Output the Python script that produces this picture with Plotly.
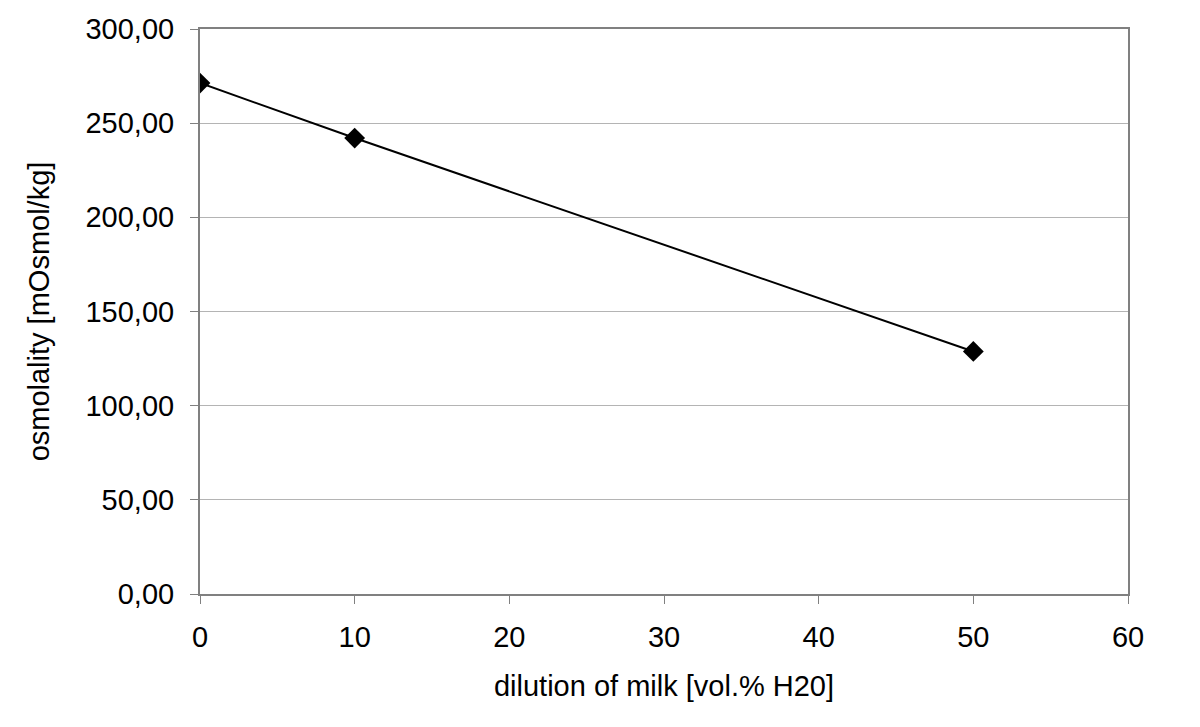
import plotly.graph_objects as go

# dilution of milk [vol.% H2O] vs measured osmolality
dilution = [0, 10, 50]
osmolality = [271.3, 242.1, 128.8]

y_ticks = [0, 50, 100, 150, 200, 250, 300]
x_ticks = [0, 10, 20, 30, 40, 50, 60]

fig = go.Figure()
fig.add_trace(go.Scatter(
    x=dilution,
    y=osmolality,
    mode="lines+markers",
    line=dict(color="black", width=2),
    marker=dict(symbol="diamond", size=16, color="black"),
    showlegend=False,
))

axis_font = dict(family="Liberation Sans, Arial", size=29, color="black")
title_font = dict(family="Liberation Sans, Arial", size=29, color="black")

fig.update_layout(
    width=1200,
    height=727,
    margin=dict(l=192, r=80, t=21, b=141),
    paper_bgcolor="white",
    plot_bgcolor="white",
    separators=",.",
    font=dict(family="Liberation Sans, Arial", color="black"),
    xaxis=dict(
        range=[0, 60],
        tickvals=x_ticks,
        ticks="outside",
        ticklen=8,
        tickcolor="#808080",
        ticklabelstandoff=8,
        showline=True,
        linecolor="#808080",
        linewidth=2,
        mirror=True,
        showgrid=False,
        zeroline=False,
        automargin=False,
        tickfont=axis_font,
        title=dict(text="dilution of milk [vol.% H20]", font=title_font, standoff=24),
    ),
    yaxis=dict(
        range=[0, 300],
        tickvals=y_ticks,
        tickformat=".2f",
        ticks="outside",
        ticklen=8,
        tickcolor="#808080",
        ticklabelstandoff=10,
        showline=True,
        linecolor="#808080",
        linewidth=2,
        mirror=True,
        showgrid=True,
        gridcolor="#b4b4b4",
        gridwidth=1,
        zeroline=False,
        automargin=False,
        tickfont=axis_font,
        title=dict(text="osmolality [mOsmol/kg]", font=title_font, standoff=27),
    ),
)

fig.write_html("out.html")
